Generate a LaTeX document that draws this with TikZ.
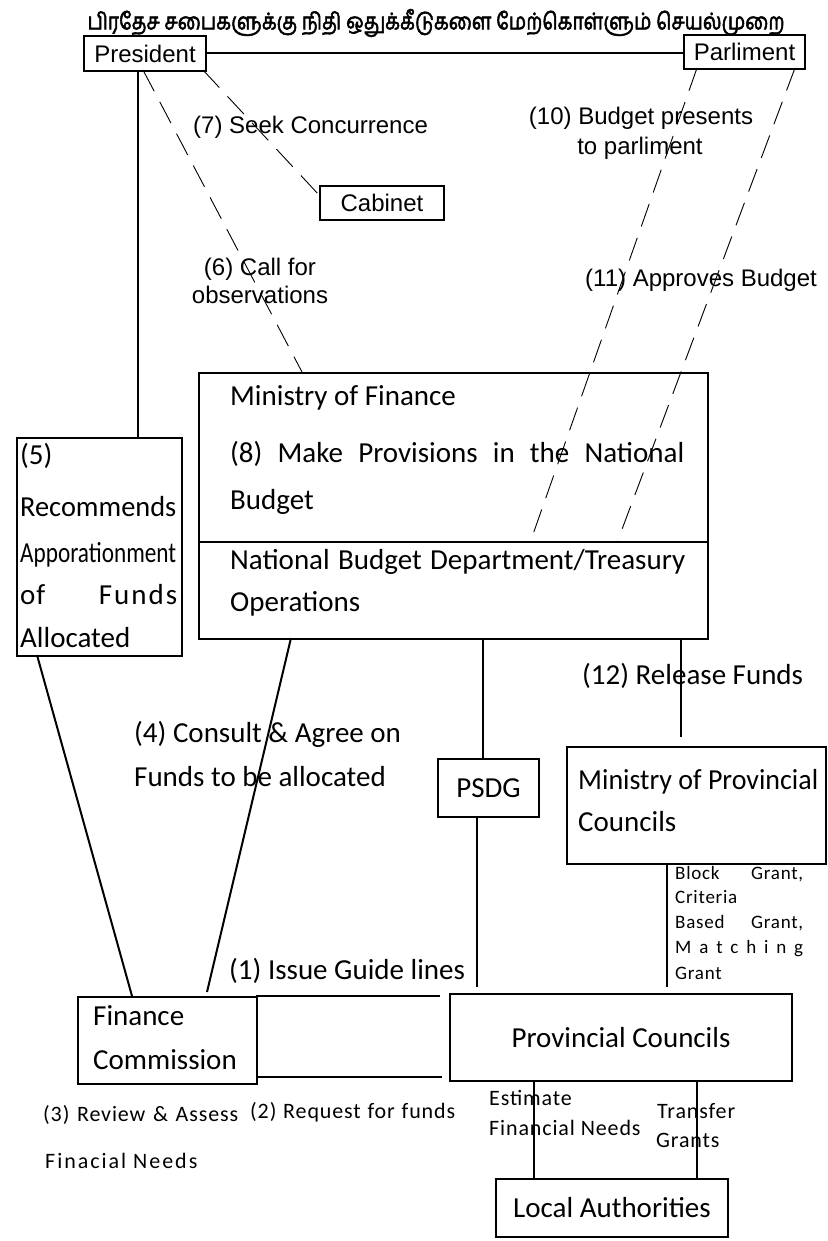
\documentclass[tikz,border=0pt]{standalone}
\usepackage{fontspec}
\usepackage{graphicx}
\setmainfont{Carlito}
\newfontfamily\arialfam{Liberation Sans}
\newfontfamily\carlitols[LetterSpace=4]{Carlito}
\newfontfamily\carlitowide[LetterSpace=9]{Carlito}
\newfontfamily\tamilfam[Script=Tamil,FakeBold=2.5]{Hind Madurai}
\newcommand\fbig{\fontsize{29}{34}\selectfont}
\newcommand\farial{\arialfam\fontsize{24}{28}\selectfont}
\newcommand\fsmall{\carlitols\fontsize{22}{26}\selectfont}
\newcommand\fsmallwide{\carlitowide\fontsize{22}{26}\selectfont}
\newcommand\ftiny{\carlitols\fontsize{19}{22}\selectfont}
\begin{document}
\begin{tikzpicture}[x=1pt,y=-1pt,
  box/.style={draw, line width=2pt, inner sep=0, anchor=north west},
  conn/.style={line width=2pt},
  dconn/.style={line width=0.9pt, dash pattern=on 24pt off 12pt},
  txt/.style={inner sep=0, anchor=base west},
  ctxt/.style={inner sep=0, anchor=base}]
\fill[white] (0,0) rectangle (827,1241);
\useasboundingbox (0,0) rectangle (827,1241);

% title
\node[inner sep=0] (title) at (436,23) {\resizebox{697pt}{\height}{\tamilfam\fontsize{23}{26}\selectfont பிரதேச சபைகளுக்கு நிதி ஒதுக்கீடுகளை மேற்கொள்ளும் செயல்முறை}};

% boxes
\node[box, minimum width=122, minimum height=35, font=\farial] (pres) at (83,35) {President};
\node[box, minimum width=121, minimum height=34, font=\farial] (parl) at (683,34) {Parliment};
\node[box, minimum width=124, minimum height=34, font=\farial] (cab) at (319,185) {Cabinet};
\node[box, minimum width=165, minimum height=218] (box5) at (16,437) {};
\node[box, minimum width=509, minimum height=266] (mof) at (198,372) {};
\node[box, minimum width=101, minimum height=58, font=\fbig] (psdg) at (437,758) {PSDG};
\node[box, minimum width=259, minimum height=117] (mpc) at (566,746) {};
\node[box, minimum width=179, minimum height=87] (fc) at (77,996) {};
\node[box, minimum width=342, minimum height=87, font=\fbig] (pc) at (449,993) {Provincial Councils};
\node[box, minimum width=232, minimum height=58, font=\fbig] (la) at (495,1178) {Local Authorities};

% divider in Ministry of Finance
\coordinate (dv) at (0,542);
\draw[conn] (mof.west |- dv) -- (mof.east |- dv);

% texts in boxes
\node[txt, font=\fbig] (t5a) at (20,464) {(5)};
\node[txt, font=\fbig] (t5b) at (20,516) {\resizebox{156pt}{\height}{Recommends}};
\node[txt, font=\fbig] (t5c) at (20,562) {\resizebox{156pt}{\height}{Apporationment}};
\node[txt, font=\fbig] (t5d) at (20,604) {\makebox[157pt][s]{o\kern1pt f\hfill F\kern2pt u\kern2pt n\kern2pt d\kern2pt s}};
\node[txt, font=\fbig] (t5e) at (20,647) {Allocated};

\node[txt, font=\fbig] (m1) at (230,405) {Ministry of Finance};
\node[txt, font=\fbig] (m2) at (230,462) {\makebox[454pt][s]{(8) Make Provisions in the National}};
\node[txt, font=\fbig] (m3) at (230,509) {Budget};
\node[txt, font=\fbig] (m4) at (230,569) {\makebox[455pt][s]{National Budget Department/Treasury}};
\node[txt, font=\fbig] (m5) at (230,611) {Operations};

\node[txt, font=\fbig] (mp1) at (578,789) {\resizebox{240pt}{\height}{Ministry of Provincial}};
\node[txt, font=\fbig] (mp2) at (578,831) {Councils};

\node[txt, font=\fbig] (fc1) at (93,1025) {Finance};
\node[txt, font=\fbig] (fc2) at (93,1069) {Commission};

% labels
\node[txt, font=\farial] (l7) at (193,134) {(7) Seek Concurrence};
\node[ctxt, font=\farial] (l6a) at (260,275) {(6) Call for};
\node[ctxt, font=\farial] (l6b) at (260,303) {observations};
\node[ctxt, font=\farial] (l10a) at (641,125) {(10) Budget presents};
\node[ctxt, font=\farial] (l10b) at (640,155) {to parliment};
\node[txt, font=\farial] (l11) at (585,286) {(11) Approves Budget};

\node[txt, font=\fbig] (l4a) at (134,742) {(4) Consult \& Agree on};
\node[txt, font=\fbig] (l4b) at (134,786) {Funds to be allocated};
\node[txt, font=\fbig] (l12) at (582,684) {(12) Release Funds};
\node[txt, font=\fbig] (l1) at (229,979) {(1) Issue Guide lines};

\node[txt, font=\fsmall] (l2) at (250,1118) {\makebox[205pt][s]{(2) Request for funds}};
\node[txt, font=\fsmall] (l3a) at (43,1121) {\makebox[195pt][s]{(3) Review \& Assess}};
\node[txt, font=\fsmallwide] (l3b) at (45,1168) {Finacial Needs};
\node[txt, font=\fsmall] (le1) at (489,1105) {Estimate};
\node[txt, font=\fsmall] (le2) at (489,1135) {Financial Needs};
\node[txt, font=\fsmall] (lt1) at (657,1118) {Transfer};
\node[txt, font=\fsmall] (lt2) at (656,1147) {Grants};

\node[txt, font=\ftiny] (g1) at (675,879) {\makebox[128pt][s]{Block Grant,}};
\node[txt, font=\ftiny] (g2) at (675,903) {Criteria};
\node[txt, font=\ftiny] (g3) at (675,928) {\makebox[128pt][s]{Based Grant,}};
\node[txt, font=\ftiny] (g4) at (675,953) {\makebox[128pt][s]{M a t c h i n g}};
\node[txt, font=\ftiny] (g5) at (675,979) {Grant};

% connector end points
\coordinate (pv) at (138,70);
\coordinate (d6s) at (143,70);
\coordinate (d6e) at (302,372);
\coordinate (d7s) at (203,70);
\coordinate (d7e) at (319,195);
\coordinate (d10s) at (697,68);
\coordinate (d10e) at (531,540);
\coordinate (d11s) at (795,68);
\coordinate (d11e) at (618,540);
\coordinate (c5s) at (37,655);
\coordinate (c5e) at (132,996);
\coordinate (c4s) at (291,638);
\coordinate (c4e) at (207,992);
\coordinate (cpsdg) at (483,638);
\coordinate (c12) at (681,638);
\coordinate (c12e) at (681,737);
\coordinate (cps) at (477,816);
\coordinate (cpse) at (477,987);
\coordinate (cmp) at (667,863);
\coordinate (cmpe) at (667,987);
\coordinate (c1s) at (256,996);
\coordinate (c1e) at (440,996);
\coordinate (c2s) at (256,1077);
\coordinate (c2e) at (442,1077);
\coordinate (cla1) at (534,1080);
\coordinate (cla2) at (697,1080);

% solid connectors
\draw[conn] (pres.east) -- (pres.east -| parl.west);
\draw[conn] (pv) -- (pv |- box5.north);
\draw[conn] (c5s) -- (c5e);
\draw[conn] (c4s) -- (c4e);
\draw[conn] (cpsdg) -- (cpsdg |- psdg.north);
\draw[conn] (c12) -- (c12e);
\draw[conn] (cps) -- (cpse);
\draw[conn] (cmp) -- (cmpe);
\draw[conn] (c1s) -- (c1e);
\draw[conn] (c2s) -- (c2e);
\draw[conn] (cla1) -- (cla1 |- la.north);
\draw[conn] (cla2) -- (cla2 |- la.north);

% dashed connectors
\draw[dconn] (d6s) -- (d6e);
\draw[dconn] (d7s) -- (d7e);
\draw[dconn] (d10s) -- (d10e);
\draw[dconn] (d11s) -- (d11e);
\end{tikzpicture}
\end{document}
